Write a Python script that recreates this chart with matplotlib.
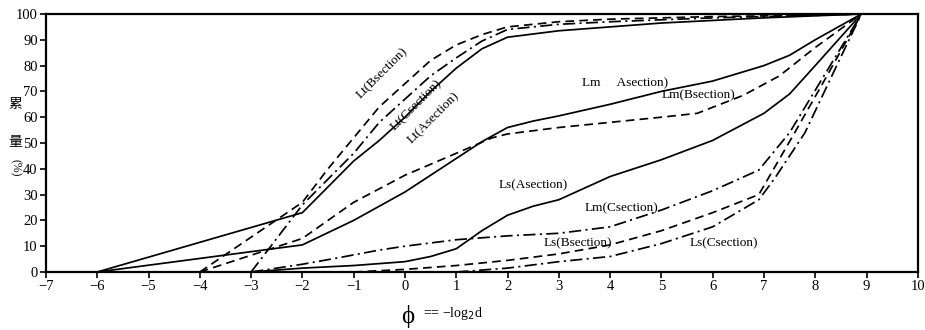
import matplotlib
matplotlib.use('Agg')
import matplotlib.pyplot as plt

plt.rcParams['font.family'] = ['Liberation Serif', 'Noto Sans CJK SC', 'DejaVu Sans']

# cumulative curves (phi, percent)
lt_a_x = [-6, -2, -1.5, -1, -0.5, 0, 0.5, 1, 1.5, 2, 3, 4, 5, 6, 7, 8, 8.9]
lt_a_y = [0, 23, 33, 43, 51, 60, 70, 79, 86.5, 91, 93.5, 95, 96.5, 97.5, 98.5, 99.3, 100]
lt_b_x = [-4, -2, -1.5, -1, -0.5, 0, 0.5, 1, 1.5, 2, 3, 4, 6, 8, 8.9]
lt_b_y = [0, 27, 40, 52, 64, 73, 82, 88, 92, 95, 97, 98, 99, 99.5, 100]
lt_c_x = [-3, -2, -1.5, -1, -0.5, 0, 0.5, 1, 1.5, 2, 3, 4, 6, 8, 8.9]
lt_c_y = [0, 26, 36, 46, 58, 67, 76, 83, 89.5, 94, 96, 97, 98.5, 99.5, 100]

lm_a_x = [-6, -2, -1, 0, 1, 1.5, 2, 2.5, 3, 4, 5, 6, 7, 7.5, 8, 8.9]
lm_a_y = [0, 10.5, 20, 31, 44, 50.5, 56, 58.5, 60.5, 65, 70, 74, 80, 84, 90, 100]
lm_b_x = [-4, -2, -1, 0, 1, 1.7, 2, 3, 4, 5, 5.7, 6.6, 7.3, 8, 8.9]
lm_b_y = [0, 13, 27, 37.5, 46, 52, 53.5, 56, 58, 60, 61.5, 68.5, 76, 87, 100]
lm_c_x = [-3, -2, -1.3, -0.5, 0, 1, 2, 3, 4, 5, 6, 6.9, 7.5, 8.2, 8.9]
lm_c_y = [0, 3, 5.5, 8.5, 10, 12.5, 14, 15, 17.5, 24, 31.5, 39.5, 54, 77, 100]

ls_a_x = [-3, -2, -1, 0, 0.5, 1, 1.5, 2, 2.5, 3, 4, 5, 6, 7, 7.5, 8, 8.9]
ls_a_y = [0, 1.5, 2.5, 4, 6, 9, 16, 22, 25.5, 28, 37, 43.5, 51, 61.5, 69, 80, 100]
ls_b_x = [-1, 0, 1, 2, 3, 4, 5, 6, 6.9, 7.6, 8.2, 8.9]
ls_b_y = [0, 1, 2.5, 4.5, 7, 10.5, 16, 23, 30, 54, 75, 100]
ls_c_x = [1, 2, 3, 4, 5, 6, 6.9, 7.2, 7.8, 8.3, 8.9]
ls_c_y = [0, 1.5, 4, 6, 11, 17.5, 28, 36, 54, 75, 100]

x_ticks = list(range(-7, 11))
y_ticks = list(range(0, 101, 10))

fig = plt.figure(figsize=(9.25, 3.3), dpi=100)
ax = fig.add_axes([0.0497, 0.1758, 0.9425, 0.7818])

solid = '-'
dashed = (0, (5, 3))
dashdot = (0, (7, 2.5, 1.2, 2.5))
lw = 1.25
for xs, ys, ls in [(lt_a_x, lt_a_y, solid), (lt_b_x, lt_b_y, dashed), (lt_c_x, lt_c_y, dashdot),
                   (lm_a_x, lm_a_y, solid), (lm_b_x, lm_b_y, dashed), (lm_c_x, lm_c_y, dashdot),
                   (ls_a_x, ls_a_y, solid), (ls_b_x, ls_b_y, dashed), (ls_c_x, ls_c_y, dashdot)]:
    ax.plot(xs, ys, color='black', linestyle=ls, linewidth=lw)

ax.set_xlim(-7, 10)
ax.set_ylim(0, 100)
ax.set_xticks(x_ticks)
ax.set_yticks(y_ticks)
ax.tick_params(axis='both', labelsize=10.5, length=4, width=1.2, pad=2, colors='black')
for sp in ax.spines.values():
    sp.set_linewidth(1.6)

# curve labels
fs = 9.5
ax.text(-0.45, 77, 'Lt(Bsection)', rotation=45, ha='center', va='center', fontsize=fs)
ax.text(0.22, 64.5, 'Lt(Csection)', rotation=45, ha='center', va='center', fontsize=fs)
ax.text(0.55, 59.5, 'Lt(Asection)', rotation=45, ha='center', va='center', fontsize=fs)
ax.text(3.45, 73.3, 'Lm     Asection)', ha='left', va='center', fontsize=fs)
ax.text(5.0, 68.6, 'Lm(Bsection)', ha='left', va='center', fontsize=fs)
ax.text(1.83, 33.7, 'Ls(Asection)', ha='left', va='center', fontsize=fs)
ax.text(3.5, 24.8, 'Lm(Csection)', ha='left', va='center', fontsize=fs)
ax.text(2.7, 11.2, 'Ls(Bsection)', ha='left', va='center', fontsize=fs)
ax.text(5.56, 11.2, 'Ls(Csection)', ha='left', va='center', fontsize=fs)

# axis titles
fig.text(408 / 925, 1 - 316 / 330, '\u03d5', fontsize=18, ha='center', va='center')
fig.text(423 / 925, 1 - 314 / 330, '== \u2212log$_2$d', fontsize=10, ha='left', va='center')
cjk = ['Noto Sans CJK SC', 'DejaVu Sans']
fig.text(15 / 925, 1 - 104 / 330, '累', fontsize=10, ha='center', va='center', family=cjk)
fig.text(15 / 925, 1 - 142 / 330, '量', fontsize=10, ha='center', va='center', family=cjk)
fig.text(15 / 925, 1 - 168 / 330, '(%)', fontsize=8.5, ha='center', va='center', rotation=-90)

fig.savefig('out.png', dpi=100, facecolor='white')
